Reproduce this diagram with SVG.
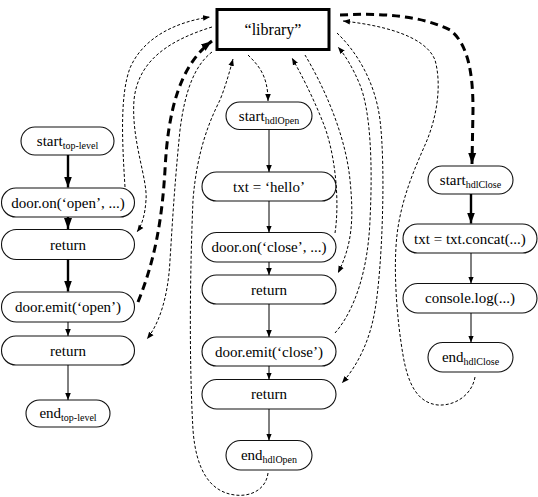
<svg xmlns="http://www.w3.org/2000/svg" width="538" height="497" viewBox="0 0 538 497">
<style>
  .pill { fill: #fff; stroke: #111; stroke-width: 1.1; }
  .lib { fill: #fff; stroke: #000; stroke-width: 3; }
  .t { font-family: 'Liberation Serif', 'Times New Roman', 'DejaVu Serif', serif; font-size: 15px; fill: #000; text-anchor: middle; }
  .sub { font-size: 10px; }
  .flow { fill: none; stroke: #000; stroke-width: 1; marker-end: url(#ah); }
  .flowT { fill: none; stroke: #000; stroke-width: 2.4; marker-end: url(#ahT); }
  .dash { fill: none; stroke: #000; stroke-width: 1; stroke-dasharray: 3 2; marker-end: url(#ah); }
  .dashT { fill: none; stroke: #000; stroke-width: 3; stroke-dasharray: 8 5; marker-end: url(#ahT); }
</style>
<defs>
  <marker id="ah" markerUnits="userSpaceOnUse" markerWidth="8" markerHeight="8" viewBox="0 0 8 8" refX="7" refY="4" orient="auto">
    <path d="M0,1.2 L7,4 L0,6.8 Z" fill="#000"/>
  </marker>
  <marker id="ahT" markerUnits="userSpaceOnUse" markerWidth="12" markerHeight="12" viewBox="0 0 12 12" refX="11" refY="6" orient="auto">
    <path d="M0,2 L11,6 L0,10 Z" fill="#000"/>
  </marker>
</defs>

<g id="library">
  <rect class="lib" x="217" y="9.5" width="112" height="40"/>
  <text class="t" x="273" y="35" font-family="Liberation Serif, serif" style="font-size:16px">“library”</text>
</g>

<g id="start-top-level"><rect class="pill" x="21" y="127" width="93" height="28" rx="14"/><text class="t" font-family="Liberation Serif, serif" x="67.5" y="146">start<tspan class="sub" dy="3">top-level</tspan></text></g>
<g id="door-on-open"><rect class="pill" x="1.5" y="188" width="133" height="29" rx="14.5"/><text class="t" font-family="Liberation Serif, serif" x="68" y="207.5">door.on(‘open’, ...)</text></g>
<g id="return-1"><rect class="pill" x="1.5" y="229.5" width="133" height="30" rx="15"/><text class="t" font-family="Liberation Serif, serif" x="68" y="249.5">return</text></g>
<g id="door-emit-open"><rect class="pill" x="1.5" y="292" width="133" height="30" rx="15"/><text class="t" font-family="Liberation Serif, serif" x="68" y="312">door.emit(‘open’)</text></g>
<g id="return-2"><rect class="pill" x="1.5" y="336" width="133" height="29" rx="14.5"/><text class="t" font-family="Liberation Serif, serif" x="68" y="355.5">return</text></g>
<g id="end-top-level"><rect class="pill" x="26" y="400" width="84" height="27" rx="13.5"/><text class="t" font-family="Liberation Serif, serif" x="68" y="418">end<tspan class="sub" dy="3">top-level</tspan></text></g>

<g id="start-hdlOpen"><rect class="pill" x="226" y="102" width="86" height="27.5" rx="13.75"/><text class="t" font-family="Liberation Serif, serif" x="269" y="121">start<tspan class="sub" dy="3">hdlOpen</tspan></text></g>
<g id="txt-hello"><rect class="pill" x="202" y="172" width="134" height="29" rx="14.5"/><text class="t" font-family="Liberation Serif, serif" x="269" y="191.5">txt = ‘hello’</text></g>
<g id="door-on-close"><rect class="pill" x="202" y="232.5" width="134" height="29.5" rx="14.75"/><text class="t" font-family="Liberation Serif, serif" x="269" y="252">door.on(‘close’, ...)</text></g>
<g id="return-3"><rect class="pill" x="202" y="275" width="134" height="29" rx="14.5"/><text class="t" font-family="Liberation Serif, serif" x="269" y="294.5">return</text></g>
<g id="door-emit-close"><rect class="pill" x="202" y="337" width="134" height="29" rx="14.5"/><text class="t" font-family="Liberation Serif, serif" x="269" y="356.5">door.emit(‘close’)</text></g>
<g id="return-4"><rect class="pill" x="202" y="379.5" width="134" height="29.5" rx="14.75"/><text class="t" font-family="Liberation Serif, serif" x="269" y="399">return</text></g>
<g id="end-hdlOpen"><rect class="pill" x="226" y="440.5" width="86" height="29.5" rx="14.75"/><text class="t" font-family="Liberation Serif, serif" x="269" y="460">end<tspan class="sub" dy="3">hdlOpen</tspan></text></g>

<g id="start-hdlClose"><rect class="pill" x="428" y="166" width="85" height="28" rx="14"/><text class="t" font-family="Liberation Serif, serif" x="470.5" y="185">start<tspan class="sub" dy="3">hdlClose</tspan></text></g>
<g id="txt-concat"><rect class="pill" x="403" y="224" width="134" height="29" rx="14.5"/><text class="t" font-family="Liberation Serif, serif" x="470" y="243.5">txt = txt.concat(...)</text></g>
<g id="console-log"><rect class="pill" x="403" y="283.5" width="134" height="29.5" rx="14.75"/><text class="t" font-family="Liberation Serif, serif" x="470" y="303">console.log(...)</text></g>
<g id="end-hdlClose"><rect class="pill" x="428" y="342.5" width="85" height="29.5" rx="14.75"/><text class="t" font-family="Liberation Serif, serif" x="470.5" y="362">end<tspan class="sub" dy="3">hdlClose</tspan></text></g>

<g id="connectors">
  <path class="flowT" d="M68,155 L68,187.5"/>
  <path class="flowT" d="M68,217 L68,229"/>
  <path class="flowT" d="M68,259.5 L68,291.5"/>
  <path class="flow" d="M68,322 L68,336"/>
  <path class="flow" d="M68,365 L68,400"/>

  <path class="flow" d="M269,129.5 L269,172"/>
  <path class="flow" d="M269,201 L269,232.5"/>
  <path class="flow" d="M269,262 L269,275"/>
  <path class="flow" d="M269,304 L269,337"/>
  <path class="flow" d="M269,366 L269,379.5"/>
  <path class="flow" d="M269,409 L269,440.5"/>

  <path class="flowT" d="M471,194 L471,223.5"/>
  <path class="flow" d="M471,253 L471,283.5"/>
  <path class="flow" d="M471,313 L471,342.5"/>

  <path class="dash" d="M125,187 C122,140 120,95 130,68 C143,38 175,22 210,17"/>
  <path class="dash" d="M212,27 C170,40 138,60 134,100 C131,140 148,180 146,200 C145,215 142,225 137,232"/>
  <path class="dashT" d="M138,302 C155,260 162,220 165,170 C168,110 180,65 212,41"/>
  <path class="dash" d="M212,52 C195,65 185,90 180,130 C174,190 172,230 170,260 C168,300 158,325 147,339"/>
  <path class="dash" d="M268,473 C266,490 250,497 235,495 C210,492 196,470 193,430 C189,360 190,270 193,200 C197,150 210,120 220,100 C226,85 230,70 233,59"/>
  <path class="dash" d="M248,55 C258,65 268,75 268,101"/>
  <path class="dash" d="M335,233 C340,200 335,150 322,120 C312,95 300,72 292,58"/>
  <path class="dash" d="M305,55 C320,80 345,130 350,180 C354,220 352,245 338,273"/>
  <path class="dash" d="M335,333 C355,310 368,270 370,220 C373,160 370,110 360,85 C353,68 345,55 338,47"/>
  <path class="dash" d="M337,33 C355,50 375,80 380,120 C386,170 382,270 375,310 C370,340 358,365 342,383"/>
  <path class="dash" d="M475,377 C472,395 455,406 438,405 C418,403 408,385 403,355 C397,320 393,270 397,235 C401,200 414,170 425,145 C437,118 442,85 435,60 C425,35 380,25 343,21"/>
  <path class="dashT" d="M340,15 C380,13 420,15 450,30 C470,45 473,80 473,110 L472,164"/>
</g>
</svg>
